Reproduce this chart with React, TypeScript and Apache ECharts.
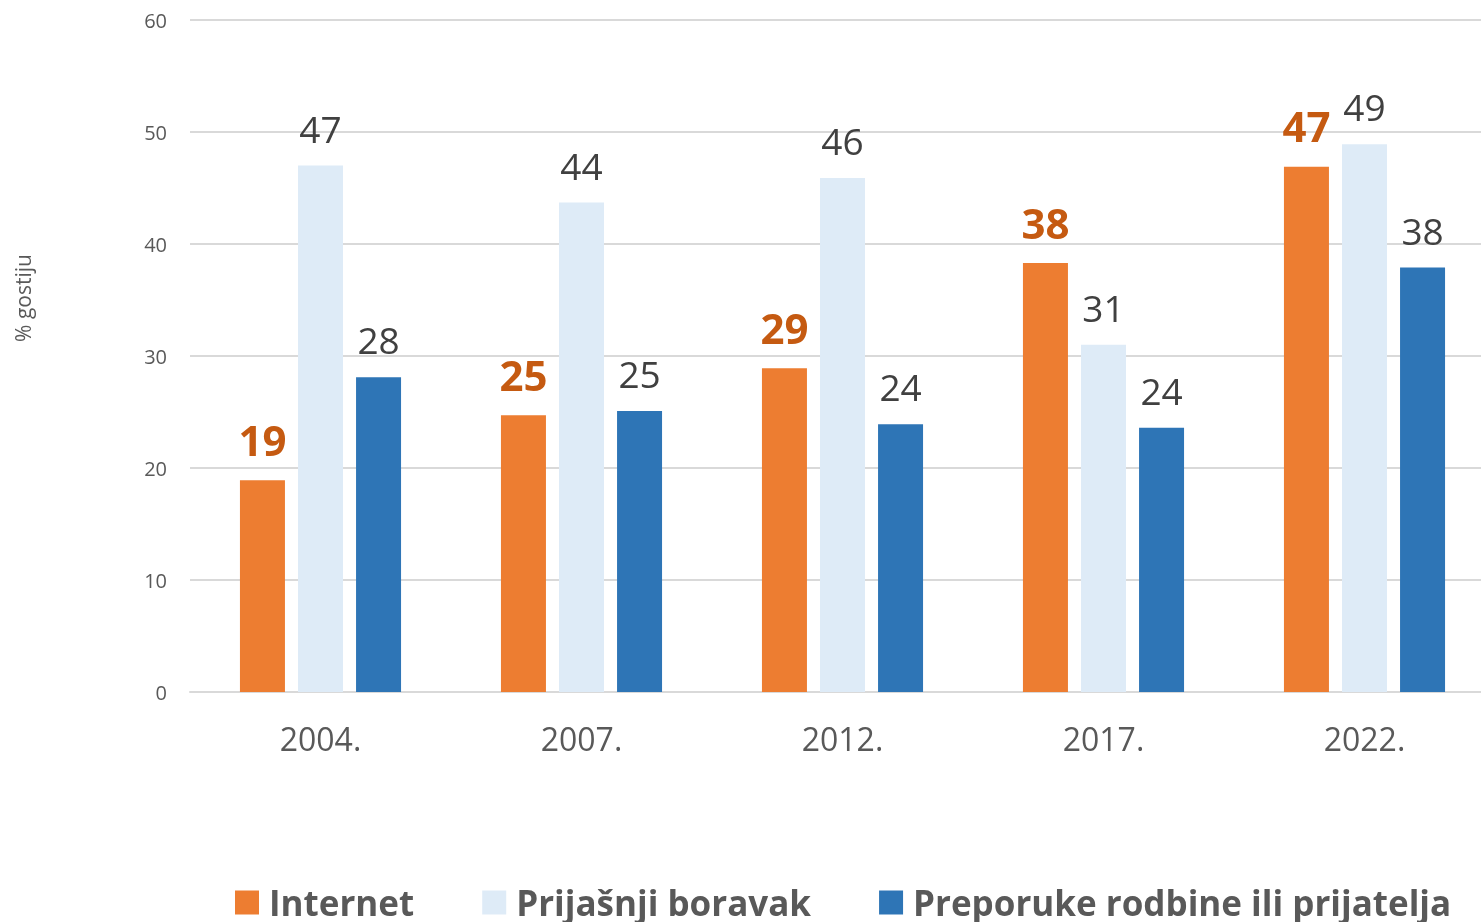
import React, { useEffect, useRef } from "react";
import * as echarts from "echarts";

const categories = ["2004.", "2007.", "2012.", "2017.", "2022."];
const internet = [18.9, 24.7, 28.9, 38.3, 46.9];
const prijasnji = [47.0, 43.7, 45.9, 31.0, 48.9];
const preporuke = [28.1, 25.1, 23.9, 23.6, 37.9];
const seriesNames = ["Internet", "Prijašnji boravak", "Preporuke rodbine ili prijatelja"];
const yTicks = { min: 0, max: 60, interval: 10 };
const yAxisTitle = "% gostiju";

const FONT = "'Open Sans', 'Noto Sans', sans-serif";

export default function App() {
  const ref = useRef<HTMLDivElement>(null);
  useEffect(() => {
    if (!ref.current) return;
    const chart = echarts.init(ref.current, undefined, { renderer: "svg" });
    const regularLabel = {
      show: true,
      position: "top",
      distance: 19,
      fontSize: 37,
      fontFamily: FONT,
      color: "#404040",
      formatter: (p: any) => String(Math.round(p.value)),
    };
    chart.setOption({
      animation: false,
      textStyle: { fontFamily: FONT },
      grid: { left: 190, right: 0, top: 20, bottom: 230, containLabel: false },
      legend: {
        left: 230,
        top: 880,
        itemWidth: 24,
        itemHeight: 24,
        itemGap: 68,
        icon: "rect",
        textStyle: {
          fontSize: 35,
          fontWeight: "bold",
          color: "#595959",
          fontFamily: FONT,
          padding: [0, 0, 0, 5],
        },
        data: seriesNames,
      },
      graphic: [
        {
          type: "text",
          x: 23,
          y: 298,
          rotation: Math.PI / 2,
          style: {
            text: yAxisTitle,
            fontSize: 21,
            fontFamily: FONT,
            fill: "#595959",
            align: "center",
            verticalAlign: "middle",
          },
        },
      ],
      xAxis: {
        type: "category",
        data: categories,
        axisLine: { lineStyle: { color: "#D9D9D9", width: 2 } },
        axisTick: { show: false },
        axisLabel: { fontSize: 32, color: "#595959", margin: 30, fontFamily: FONT },
      },
      yAxis: {
        type: "value",
        min: yTicks.min,
        max: yTicks.max,
        interval: yTicks.interval,
        axisLine: { show: false },
        axisTick: { show: false },
        splitLine: { lineStyle: { color: "#D9D9D9", width: 2 } },
        axisLabel: { fontSize: 20, color: "#595959", margin: 23, fontFamily: FONT },
      },
      series: [
        {
          name: seriesNames[0],
          type: "bar",
          data: internet,
          barWidth: 45,
          barGap: "29%",
          itemStyle: { color: "#ED7D31" },
          label: {
            ...regularLabel,
            fontSize: 42,
            fontWeight: "bold",
            color: "#C55A11",
            distance: 20,
          },
        },
        {
          name: seriesNames[1],
          type: "bar",
          data: prijasnji,
          barWidth: 45,
          barGap: "29%",
          itemStyle: { color: "#DEEBF7" },
          label: regularLabel,
        },
        {
          name: seriesNames[2],
          type: "bar",
          data: preporuke,
          barWidth: 45,
          barGap: "29%",
          itemStyle: { color: "#2E75B6" },
          label: regularLabel,
        },
      ],
    });
    return () => chart.dispose();
  }, []);
  return (
    <div
      style={{
        position: "fixed",
        left: 0,
        top: 0,
        width: 1481,
        height: 922,
        overflow: "hidden",
      }}
    >
      <div ref={ref} style={{ width: 1495, height: 922 }} />
    </div>
  );
}
